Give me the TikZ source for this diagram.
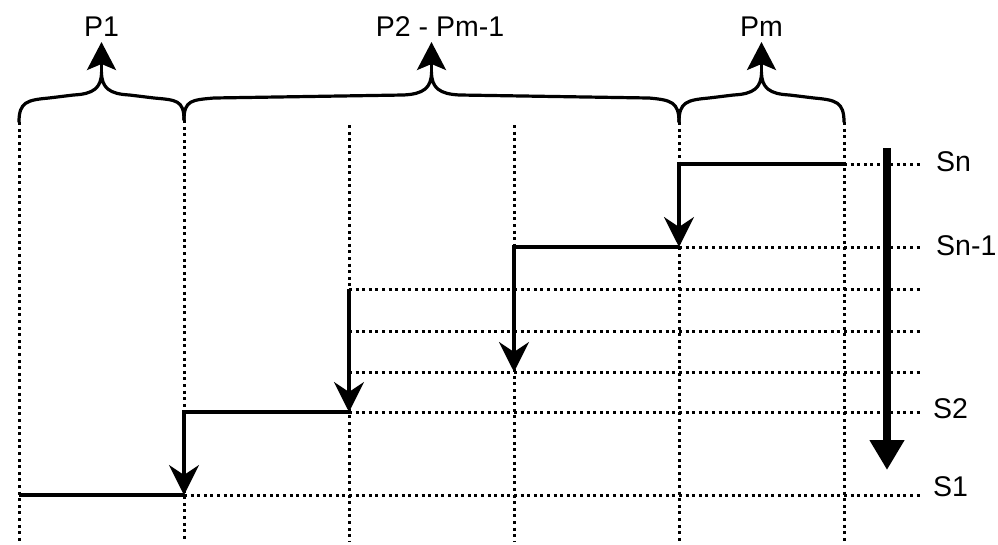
\documentclass[tikz,border=0pt]{standalone}
\usepackage{fontspec}
\setmainfont{Liberation Sans}
\usetikzlibrary{arrows.meta}

% curly bracket over a span: left x, left y, middle x, right x, right y
\newcommand{\curlybrace}[5]{%
  \draw[bracket] (#1,#2) .. controls (#1,#2-20) and (#1+8,100) .. (#1+30,98)
    -- (#3-28,95) .. controls (#3-8,94) and (#3,88) .. (#3,72)
    .. controls (#3,88) and (#3+8,94) .. (#3+28,95)
    -- (#4-30,98) .. controls (#4-8,100) and (#4,#5-20) .. (#4,#5);}

\begin{document}
\begin{tikzpicture}[x=1pt,y=-1pt,
  grid/.style={line width=3pt, dash pattern=on 3pt off 3.6pt},
  stepline/.style={line width=3.2pt, line join=miter},
  steparrow/.style={stepline, -{Stealth[length=30pt,width=30pt,inset=10pt]}},
  bracket/.style={line width=3.2pt, line cap=round},
  tiparrow/.style={line width=3.2pt, -{Stealth[length=28pt,width=29pt,inset=6pt]}, shorten >=5pt},
  lbl/.style={font=\fontsize{28.5}{33}\selectfont, inner sep=0pt, text depth=0pt},
]
\useasboundingbox (0,0) rectangle (998,544);

% processor columns
\coordinate (c0t) at (19,122);  \coordinate (c0b) at (19,541);
\coordinate (c1t) at (184,120); \coordinate (c1b) at (184,541);
\coordinate (c2t) at (349,125); \coordinate (c2b) at (349,541);
\coordinate (c3t) at (514,125); \coordinate (c3b) at (514,541);
\coordinate (c4t) at (679,122); \coordinate (c4b) at (679,541);
\coordinate (c5t) at (844,122); \coordinate (c5b) at (844,541);
\foreach \c in {0,...,5} \draw[grid] (c\c t) -- (c\c b);

% stage rows
\coordinate (sn) at (844,164);  \coordinate (snE) at (920,164);
\coordinate (sm) at (679,247);  \coordinate (smE) at (920,247);
\coordinate (ra) at (349,289);  \coordinate (raE) at (920,289);
\coordinate (rb) at (349,331);  \coordinate (rbE) at (920,331);
\coordinate (rc) at (349,372);  \coordinate (rcE) at (920,372);
\coordinate (m3) at (514,372);
\coordinate (s2) at (349,412);  \coordinate (s2E) at (920,412);
\coordinate (s1) at (184,495);  \coordinate (s1E) at (920,495);
\coordinate (s0) at (19,495);
\draw[grid] (sn) -- (snE);
\draw[grid] (sm) -- (smE);
\draw[grid] (ra) -- (raE);
\draw[grid] (rb) -- (rbE);
\draw[grid] (rc) -- (rcE);
\draw[grid] (s2) -- (s2E);
\draw[grid] (s1) -- (s1E);

% row labels
\node[lbl, anchor=west] (lsn) at (936,162) {Sn};
\node[lbl, anchor=west] (lsm) at (936,246) {Sn-1};
\node[lbl, anchor=west] (ls2) at (933,409) {S2};
\node[lbl, anchor=west] (ls1) at (933,487) {S1};

% hand-over steps between processors
\draw[steparrow] (sn) -| (sm);
\draw[steparrow] (sm) -| (m3);
\draw[steparrow] (ra) -- (s2);
\draw[steparrow] (s2) -| (s1);
\draw[stepline] (s1) -- (s0);

% overall direction
\coordinate (flowtop) at (887,148);
\coordinate (flowbot) at (887,470);
\draw[line width=8pt, -{Triangle[length=30pt,width=33pt]}] (flowtop) -- (flowbot);

% processor groups
\curlybrace{19}{122}{101.5}{184}{120}
\curlybrace{184}{120}{431.5}{679}{122}
\curlybrace{679}{122}{761.5}{844}{122}
\coordinate (b1) at (101.5,72);
\coordinate (b2) at (431.5,72);
\coordinate (b3) at (761.5,72);
\node[lbl, anchor=south] (p1) at (101.5,37) {P1};
\node[lbl, anchor=south] (p2) at (440,37) {P2 - Pm-1};
\node[lbl, anchor=south] (pm) at (761.5,37) {Pm};
\draw[tiparrow] (b1) -- (p1.south -| b1);
\draw[tiparrow] (b2) -- (p2.south -| b2);
\draw[tiparrow] (b3) -- (pm.south -| b3);
\end{tikzpicture}
\end{document}
